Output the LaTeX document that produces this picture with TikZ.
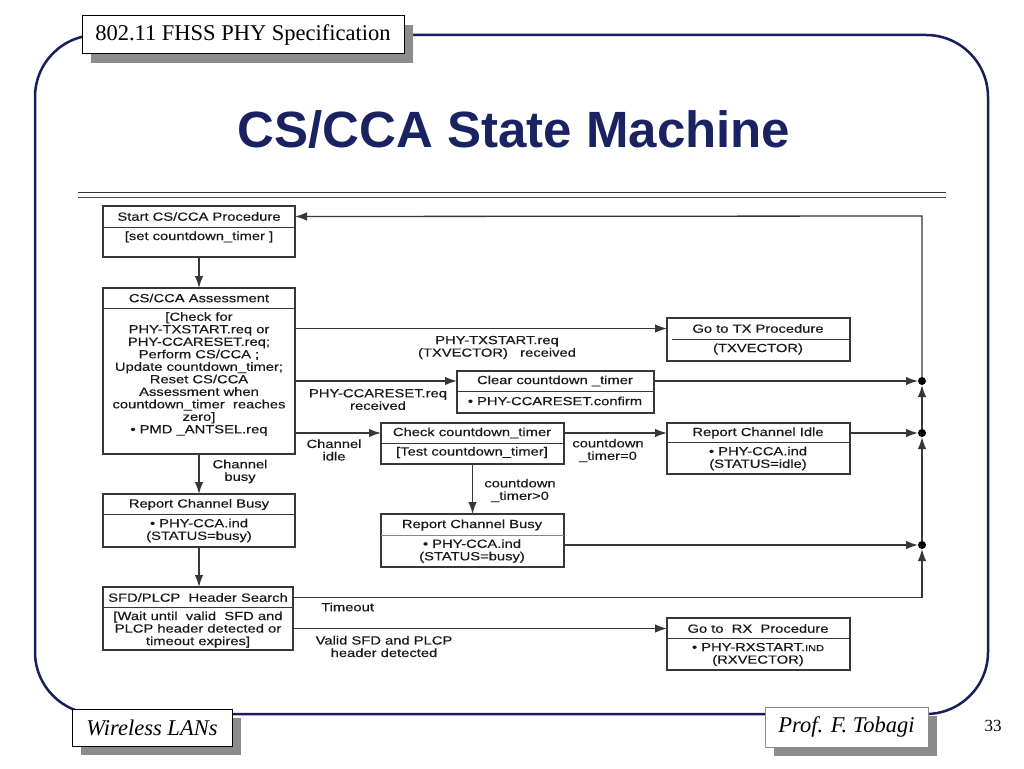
\documentclass[tikz,border=0pt]{standalone}
\usepackage{fontspec}
\setmainfont{Liberation Serif}
\newfontfamily\diagfont[FakeStretch=1.25,FakeBold=0.4]{Liberation Sans}
\newfontfamily\titlefont{Liberation Sans}
\usetikzlibrary{arrows.meta,shadows}
\definecolor{navy}{RGB}{24,30,92}
\definecolor{titleblue}{RGB}{26,34,98}
\definecolor{ln}{RGB}{55,55,55}
\definecolor{tx}{RGB}{25,25,25}
\begin{document}
\begin{tikzpicture}[x=1pt,y=-1pt,
  box/.style={draw=ln,line width=1.3pt,inner sep=0pt,outer sep=0pt,anchor=north west},
  div/.style={draw=ln,line width=1pt},
  lbl/.style={font=\diagfont\fontsize{11.8}{12.5}\selectfont,text=tx,align=center,inner sep=0pt},
  arr/.style={draw=ln,line width=1.3pt,-{Latex[length=12pt,width=8.5pt]}},
  dot/.style={circle,fill=black,inner sep=0pt,outer sep=0pt,minimum size=8pt},
  shbox/.style={fill=white,inner sep=0pt,drop shadow={shadow xshift=9pt,shadow yshift=-9pt,fill=black!45,opacity=1}}
]
\useasboundingbox (0,0) rectangle (1024,768);

% slide frame
\draw[navy,line width=2.5pt,rounded corners=62pt] (35,35) rectangle (988,714);

% header
\node[shbox,draw=black,line width=1pt,minimum width=322pt,minimum height=38pt,font=\fontsize{22.5}{24}\selectfont] (hdr) at (243,35) {802.11 FHSS PHY Specification};

% title
\node[font=\titlefont\bfseries\fontsize{51}{60}\selectfont,text=titleblue,inner sep=0pt] (title) at (514,130) {CS/CCA State Machine};

% double rule
\draw[black!80,line width=1.6pt] (78,192.5) -- (946,192.5);
\draw[black!70,line width=1pt] (78,197.5) -- (946,197.5);

% boxes
\node[box,minimum width=192pt,minimum height=51pt] (start) at (103,206) {};
\node[box,minimum width=192pt,minimum height=166pt] (assess) at (103,288) {};
\node[box,minimum width=192pt,minimum height=53pt] (busyL) at (103,494) {};
\node[box,minimum width=190pt,minimum height=63pt] (sfd) at (103,587) {};
\node[box,minimum width=183pt,minimum height=43pt] (tx) at (667,318) {};
\node[box,minimum width=197pt,minimum height=42pt] (clear) at (457,371) {};
\node[box,minimum width=183pt,minimum height=41pt] (check) at (381,423) {};
\node[box,minimum width=183pt,minimum height=51pt] (idle) at (667,423) {};
\node[box,minimum width=183pt,minimum height=53pt] (busyM) at (381,514) {};
\node[box,minimum width=183pt,minimum height=52pt] (rx) at (667,618) {};

% dividers
\draw[div] (103,227) -- (295,227);
\draw[div] (103,308) -- (295,308);
\draw[div] (103,514) -- (295,514);
\draw[div] (103,607) -- (293,607);
\draw[div] (672,339) -- (850,339);
\draw[div] (457,391) -- (654,391);
\draw[div] (381,443) -- (564,443);
\draw[div] (667,442) -- (850,442);
\draw[div,draw=ln!60] (381,535) -- (564,535);
\draw[div] (667,638) -- (850,638);

% box texts
\node[lbl] (startT) at (199,216.5) {Start CS/CCA Procedure};
\node[lbl] (startB) at (199,237) {[set countdown\_timer ]};
\node[lbl] (assessT) at (199,298) {CS/CCA Assessment};
\node[lbl] (assessB) at (199,374) {[Check for\\PHY-TXSTART.req or\\PHY-CCARESET.req;\\Perform CS/CCA ;\\Update countdown\_timer;\\Reset CS/CCA\\Assessment when\\countdown\_timer\ \ reaches\\zero]\\• PMD \_ANTSEL.req};
\node[lbl] (busyLT) at (199,504.5) {Report Channel Busy};
\node[lbl] (busyLB) at (199,530.5) {• PHY-CCA.ind\\(STATUS=busy)};
\node[lbl] (sfdT) at (198,597.5) {SFD/PLCP\ \ Header Search};
\node[lbl] (sfdB) at (198,629.5) {[Wait until\ \ valid\ \ SFD and\\PLCP header detected or\\timeout expires]};
\node[lbl] (txT) at (758,328.5) {Go to TX Procedure};
\node[lbl] (txB) at (758,349) {(TXVECTOR)};
\node[lbl] (clearT) at (555,381) {Clear countdown \_timer};
\node[lbl] (clearB) at (555,401) {• PHY-CCARESET.confirm};
\node[lbl] (checkT) at (472,433) {Check countdown\_timer};
\node[lbl] (checkB) at (472,452.5) {[Test countdown\_timer]};
\node[lbl] (idleT) at (758,433) {Report Channel Idle};
\node[lbl] (idleB) at (758,458.5) {• PHY-CCA.ind\\(STATUS=idle)};
\node[lbl] (busyMT) at (472,525) {Report Channel Busy};
\node[lbl] (busyMB) at (472,551) {• PHY-CCA.ind\\(STATUS=busy)};
\node[lbl] (rxT) at (758,628.5) {Go to\ \ RX\ \ Procedure};
\node[lbl] (rxB) at (758,654.5) {• PHY-RXSTART.{\fontsize{8.8}{12.5}\selectfont IND}\\(RXVECTOR)};

% junction dots and corners
\node[dot] (d1) at (922,381) {};
\node[dot] (d2) at (922,433) {};
\node[dot] (d3) at (922,545) {};
\coordinate (c0) at (922,216);
\coordinate (c4) at (922,598);

% connectors
\draw[arr] (start) -- (assess);
\draw[arr] (assess) -- (busyL);
\draw[arr] (busyL.south) -- (busyL.south |- sfd.north);
\draw[arr] (assess.east |- txT) -- (tx.west |- txT);
\draw[arr] (assess.east |- clearT) -- (clear.west |- clearT);
\draw[arr] (assess.east |- checkT) -- (check.west |- checkT);
\draw[arr] (check.east |- checkT) -- (idle.west |- checkT);
\draw[arr] (check) -- (busyM);
\draw[arr] (sfd.east |- rxT) -- (rx.west |- rxT);
\draw[arr] (clear.east |- clearT) -- (d1);
\draw[arr] (idle.east |- d2) -- (d2);
\draw[arr] (busyM.east |- d3) -- (d3);
\draw[arr] (sfd.east |- sfdT) -- (sfdT -| c4) -- (d3);
\draw[arr] (d3) -- (d2);
\draw[arr] (d2) -- (d1);
\draw[arr] (d1) -- (c0) -- (start.east |- startT);

% connector labels
\node[lbl] (lTx) at (497,347.5) {PHY-TXSTART.req\\(TXVECTOR)\ \ \ received};
\node[lbl] (lClr) at (378,399.5) {PHY-CCARESET.req\\received};
\node[lbl] (lIdle) at (334,450) {Channel\\idle};
\node[lbl] (lZero) at (608,450.5) {countdown\\\_timer=0};
\node[lbl] (lGt) at (520,490.5) {countdown\\\_timer>0};
\node[lbl] (lBusy) at (240,471.5) {Channel\\busy};
\node[lbl,anchor=west] (lTo) at (321,607) {Timeout};
\node[lbl] (lValid) at (384,646.5) {Valid SFD and PLCP\\header detected};

% footer
\node[shbox,draw=black,line width=1pt,minimum width=160pt,minimum height=37pt,font=\itshape\fontsize{22.5}{24}\selectfont] (wl) at (152,727.5) {Wireless LANs};
\node[shbox,draw=black!45,line width=1pt,minimum width=163pt,minimum height=40pt,font=\itshape\fontsize{22.5}{24}\selectfont] (pf) at (846.5,727) {Prof. F. Tobagi};
\node[font=\fontsize{17}{19}\selectfont,inner sep=0pt] (pg) at (993,726) {33};
\end{tikzpicture}
\end{document}
